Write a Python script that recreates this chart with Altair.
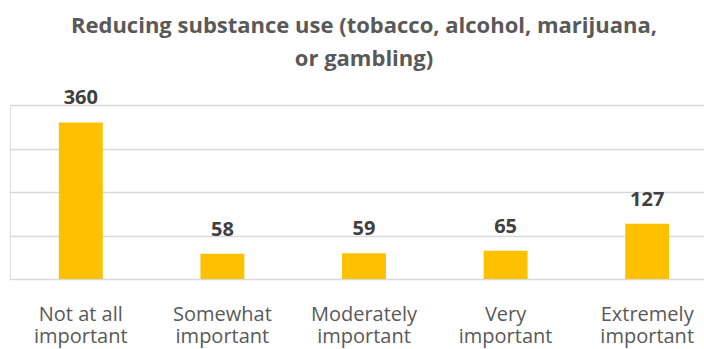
import altair as alt
import pandas as pd

categories = ["Not at all\nimportant", "Somewhat\nimportant", "Moderately\nimportant",
              "Very\nimportant", "Extremely\nimportant"]
counts = [360, 58, 59, 65, 127]
title_lines = ["Reducing substance use (tobacco, alcohol, marijuana,", "or gambling)"]
y_ticks = [0, 100, 200, 300, 400]

df = pd.DataFrame({"category": categories, "count": counts})

FONT = "Open Sans"

x = alt.X("category:N", sort=None, title=None,
          scale=alt.Scale(range=[0, 708], paddingInner=0.69, paddingOuter=0.345),
          axis=alt.Axis(labelExpr="split(datum.value, '\\n')", labelAngle=0,
                        labelFontSize=20, labelColor="#595959", labelFont=FONT,
                        labelLineHeight=22, labelPadding=41, ticks=False, domain=False,
                        labelBaseline="alphabetic"))
y = alt.Y("count:Q", title=None, scale=alt.Scale(domain=[0, 400], nice=False),
          axis=alt.Axis(values=y_ticks, labels=False, ticks=False, domain=False,
                        grid=True, gridColor="#D9D9D9", gridWidth=1.5))

bars = alt.Chart(df).mark_bar(color="#FFC000").encode(x=x, y=y)
text = alt.Chart(df).mark_text(baseline="alphabetic", dy=-18, fontSize=20, fontWeight="bold",
                               color="#404040", font=FONT).encode(
    x=alt.X("category:N", sort=None), y="count:Q", text="count:Q")

chart = (bars + text).properties(
    width=694, height=174,
    title=alt.TitleParams(text=title_lines, fontSize=22, fontWeight="bold", color="#595959",
                          font=FONT, anchor="middle", dx=7, lineHeight=33, offset=0,
                          baseline="alphabetic"),
    autosize=alt.AutoSizeParams(type="none"),
    padding={"left": 10, "top": 105, "right": 0, "bottom": 70},
).configure_view(stroke=None).configure(background="white")

chart.save("out.html", embed_options={"renderer": "svg", "actions": False})
